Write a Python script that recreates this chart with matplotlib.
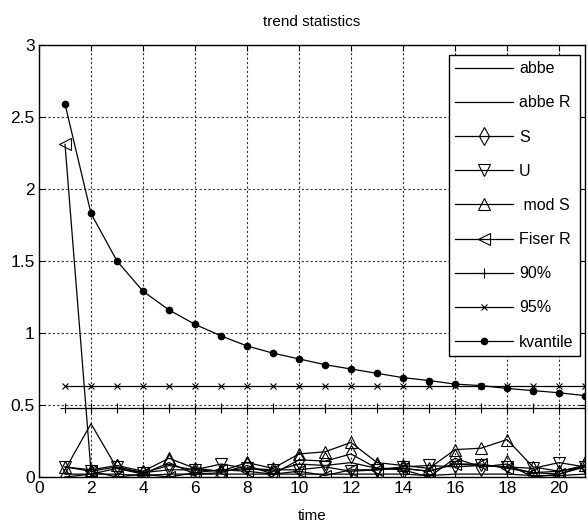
import numpy as np
import matplotlib.pyplot as plt

plt.rcParams['font.family'] = ['Liberation Sans', 'DejaVu Sans']

# time axis
time = np.arange(1, 22)

# series values
abbe = [0.05, 0.37, 0.06, 0.03, 0.08, 0.05, 0.04, 0.06, 0.04, 0.09, 0.08, 0.10, 0.06, 0.06, 0.04, 0.09, 0.08, 0.07, 0.03, 0.04, 0.07]
abbe_r = [0.02, 0.02, 0.02, 0.01, 0.02, 0.02, 0.02, 0.02, 0.02, 0.02, 0.02, 0.02, 0.02, 0.02, 0.01, 0.02, 0.02, 0.02, 0.01, 0.01, 0.02]
s_stat = [0.00, 0.02, 0.06, 0.02, 0.10, 0.02, 0.03, 0.08, 0.02, 0.12, 0.11, 0.16, 0.06, 0.05, 0.00, 0.13, 0.07, 0.09, 0.00, 0.02, 0.08]
u_stat = [0.07, 0.04, 0.07, 0.03, 0.05, 0.05, 0.09, 0.06, 0.05, 0.05, 0.07, 0.04, 0.05, 0.07, 0.08, 0.07, 0.08, 0.07, 0.06, 0.10, 0.07]
mod_s = [0.07, 0.05, 0.08, 0.04, 0.13, 0.06, 0.04, 0.10, 0.06, 0.16, 0.175, 0.24, 0.10, 0.08, 0.06, 0.19, 0.20, 0.26, 0.07, 0.04, 0.08]
fiser_r = [2.31, 0.04, 0.00, 0.02, 0.00, 0.03, 0.05, 0.04, 0.02, 0.04, 0.01, 0.05, 0.05, 0.06, 0.04, 0.09, 0.09, 0.06, 0.03, 0.02, 0.07]
q90 = [0.48] * 21
q95 = [0.635] * 21
kvantile = [2.59, 1.83, 1.50, 1.29, 1.16, 1.06, 0.98, 0.91, 0.86, 0.82, 0.78, 0.75, 0.72, 0.69, 0.67, 0.645, 0.635, 0.615, 0.60, 0.585, 0.565]

fig = plt.figure(figsize=(5.88, 5.22), dpi=100)
ax = fig.add_axes([39/588, 45/522, 546/588, 432/522])

lw = 0.9
ax.plot(time, abbe, '-', color='k', lw=lw, label='abbe')
ax.plot(time, abbe_r, '-', color='k', lw=lw, label='abbe R')
ax.plot(time, s_stat, '-', marker='d', color='k', lw=lw, ms=9, mfc='none', mew=0.8, label='S')
ax.plot(time, u_stat, '-', marker='v', color='k', lw=lw, ms=8, mfc='none', mew=0.8, label='U')
ax.plot(time, mod_s, '-', marker='^', color='k', lw=lw, ms=8, mfc='none', mew=0.8, label=' mod S')
ax.plot(time, fiser_r, '-', marker='<', color='k', lw=lw, ms=8, mfc='none', mew=0.8, label='Fiser R')
ax.plot(time, q90, '-', marker='+', color='k', lw=lw, ms=7, mew=0.8, label='90%')
ax.plot(time, q95, '-', marker='x', color='k', lw=lw, ms=4, mew=0.8, label='95%')
ax.plot(time, kvantile, '-', marker='o', color='k', lw=lw, ms=4.5, label='kvantile')

ax.set_xlim(0, 21)
ax.set_ylim(0, 3)
ax.set_xticks(range(0, 21, 2))
ax.set_yticks([0, 0.5, 1, 1.5, 2, 2.5, 3])
ax.set_yticklabels(['0', '0.5', '1', '1.5', '2', '2.5', '3'])
ax.tick_params(direction='in', labelsize=12.5, top=True, right=True, length=4, pad=3)
ax.grid(True, linestyle=(0, (2, 2)), color='#333333', lw=0.8)
for sp in ax.spines.values():
    sp.set_linewidth(1.0)

ax.set_title('trend statistics', fontsize=11, pad=14)
ax.set_xlabel('time', fontsize=11, labelpad=9)

leg = ax.legend(loc='upper right', bbox_to_anchor=(0.991, 0.977), borderaxespad=0,
                fontsize=11.5, handlelength=3.6, labelspacing=1.2, fancybox=False,
                edgecolor='k', framealpha=1, borderpad=0.4, handletextpad=0.4)
leg.get_frame().set_linewidth(1.0)

plt.savefig('out.png', dpi=100)
